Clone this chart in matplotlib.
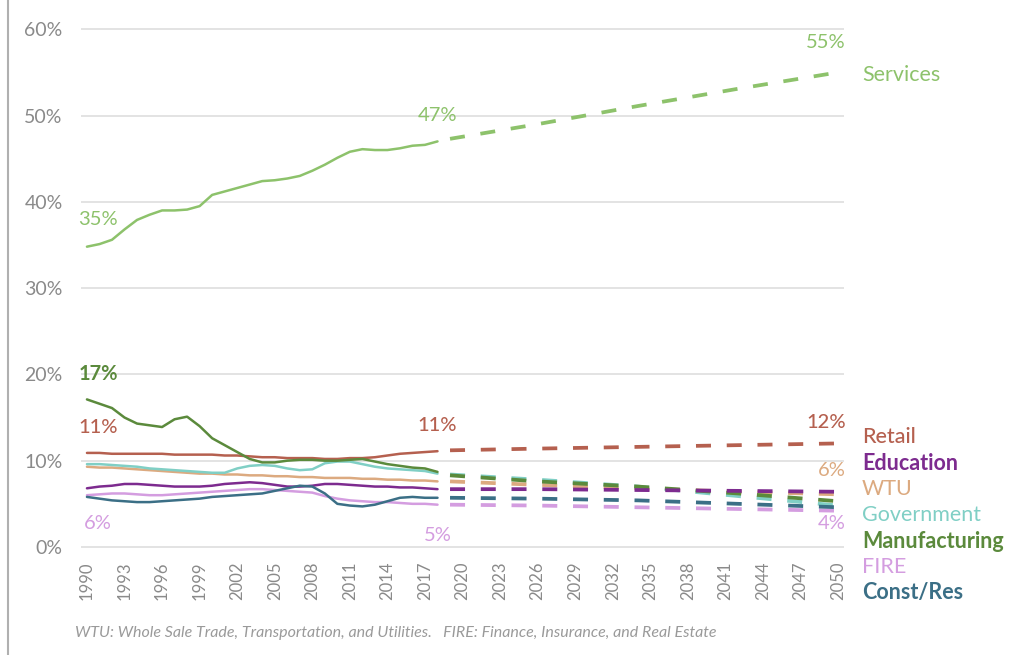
import matplotlib
matplotlib.use("Agg")
import matplotlib.pyplot as plt
from matplotlib.lines import Line2D

plt.rcParams['font.family'] = ['Lato', 'DejaVu Sans']

# Historical employment shares (%), 1990-2018
hist_years = list(range(1990, 2019))
services = [34.8, 35.1, 35.6, 36.8, 37.9, 38.5, 39.0, 39.0, 39.1, 39.5,
            40.8, 41.2, 41.6, 42.0, 42.4, 42.5, 42.7, 43.0, 43.6, 44.3,
            45.1, 45.8, 46.1, 46.0, 46.0, 46.2, 46.5, 46.6, 47.0]
retail = [10.9, 10.9, 10.8, 10.8, 10.8, 10.8, 10.8, 10.7, 10.7, 10.7,
          10.7, 10.6, 10.6, 10.5, 10.4, 10.4, 10.3, 10.3, 10.3, 10.2,
          10.2, 10.3, 10.3, 10.4, 10.6, 10.8, 10.9, 11.0, 11.1]
education = [6.8, 7.0, 7.1, 7.3, 7.3, 7.2, 7.1, 7.0, 7.0, 7.0,
             7.1, 7.3, 7.4, 7.5, 7.4, 7.2, 7.0, 7.0, 7.1, 7.3,
             7.3, 7.2, 7.1, 7.0, 7.0, 6.9, 6.9, 6.8, 6.7]
wtu = [9.3, 9.2, 9.2, 9.1, 9.0, 8.9, 8.8, 8.7, 8.6, 8.5,
       8.5, 8.4, 8.4, 8.3, 8.3, 8.2, 8.2, 8.1, 8.1, 8.0,
       8.0, 8.0, 7.9, 7.9, 7.8, 7.8, 7.7, 7.7, 7.6]
government = [9.6, 9.6, 9.5, 9.4, 9.3, 9.1, 9.0, 8.9, 8.8, 8.7,
              8.6, 8.6, 9.1, 9.4, 9.5, 9.4, 9.1, 8.9, 9.0, 9.7,
              9.9, 9.9, 9.6, 9.3, 9.1, 9.0, 8.9, 8.8, 8.5]
manufacturing = [17.1, 16.6, 16.1, 15.0, 14.3, 14.1, 13.9, 14.8, 15.1, 14.0,
                 12.6, 11.8, 11.0, 10.2, 9.8, 9.8, 10.0, 10.1, 10.1, 10.0,
                 10.0, 10.1, 10.2, 9.9, 9.6, 9.4, 9.2, 9.1, 8.7]
fire = [6.0, 6.1, 6.2, 6.2, 6.1, 6.0, 6.0, 6.1, 6.2, 6.3,
        6.4, 6.5, 6.6, 6.7, 6.7, 6.6, 6.5, 6.4, 6.3, 5.9,
        5.6, 5.4, 5.3, 5.2, 5.2, 5.1, 5.0, 5.0, 4.9]
const_res = [5.8, 5.6, 5.4, 5.3, 5.2, 5.2, 5.3, 5.4, 5.5, 5.6,
             5.8, 5.9, 6.0, 6.1, 6.2, 6.5, 6.8, 7.1, 7.0, 6.2,
             5.0, 4.8, 4.7, 4.9, 5.3, 5.7, 5.8, 5.7, 5.7]

# Projected shares (%), 2019-2050
proj_years = [2019, 2026, 2034, 2042, 2050]
services_p = [47.3, 49.0, 51.1, 53.1, 55.0]
retail_p = [11.2, 11.4, 11.6, 11.8, 12.0]
education_p = [6.7, 6.7, 6.6, 6.5, 6.4]
wtu_p = [7.6, 7.2, 6.8, 6.4, 6.1]
government_p = [8.4, 7.8, 7.0, 5.9, 4.8]
manufacturing_p = [8.3, 7.6, 7.0, 6.2, 5.3]
fire_p = [4.9, 4.8, 4.6, 4.4, 4.2]
const_res_p = [5.7, 5.6, 5.4, 5.0, 4.6]

x_ticks = list(range(1990, 2051, 3))
y_ticks = [0, 10, 20, 30, 40, 50, 60]

series = [
    # name, hist, proj, color, label weight
    ("Services", services, services_p, "#8dc26b", "normal"),
    ("Retail", retail, retail_p, "#b5604f", "medium"),
    ("Education", education, education_p, "#7d2b8f", "bold"),
    ("WTU", wtu, wtu_p, "#dcaa80", "normal"),
    ("Government", government, government_p, "#80cfc5", "normal"),
    ("Manufacturing", manufacturing, manufacturing_p, "#5b8a3c", "bold"),
    ("FIRE", fire, fire_p, "#d49de0", "normal"),
    ("Const/Res", const_res, const_res_p, "#3b6f86", "bold"),
]

W, H = 1011, 655
fig = plt.figure(figsize=(W / 100, H / 100), dpi=100)
ax = fig.add_axes([80.7 / W, 1 - 555.6 / H, 763.7 / W, 535 / H])
ax.set_xlim(1989.5, 2050.5)
ax.set_ylim(-1, 61)

for yv in y_ticks:
    ax.axhline(yv, color="#dedede", lw=1.2, zorder=0)

draw_order = ["Services", "Retail", "WTU", "Government", "Manufacturing",
              "Education", "FIRE", "Const/Res"]
lookup = {s[0]: s for s in series}
for name in draw_order:
    _, hist, proj, color, _w = lookup[name]
    ax.plot(hist_years, hist, color=color, lw=1.8, solid_capstyle="round", zorder=3)
    ax.plot(proj_years, proj, color=color, lw=2.7, dashes=(4.0, 4.2), zorder=3)

# Value annotations
def note(x, y, val, color, weight="normal", ha="center"):
    ax.text(x, y, f"{round(val)}%", color=color, fontsize=14.5, ha=ha,
            va="center", fontweight=weight, zorder=4)

green, mfg, ret, lav, tan = "#8dc26b", "#5b8a3c", "#b5604f", "#d49de0", "#dcaa80"
note(1990.9, services[0] + 3.2, services[0], green)
note(1990.9, manufacturing[0] + 2.9, manufacturing[0], mfg, "bold")
note(1990.9, retail[0] + 3.0, retail[0], ret, "medium")
note(1990.9, fire[0] - 3.3, fire[0], lav)
note(2018.0, services[-1] + 3.0, services[-1], green)
note(2018.0, retail[-1] + 3.0, retail[-1], ret, "medium")
note(2018.0, fire[-1] - 3.6, fire[-1], lav)
note(2050.6, services_p[-1] + 3.5, services_p[-1], green, ha="right")
note(2050.6, retail_p[-1] + 2.4, retail_p[-1], ret, "medium", ha="right")
note(2050.6, wtu_p[-1] + 2.8, wtu_p[-1], tan, ha="right")
note(2050.6, fire_p[-1] - 1.5, fire_p[-1], lav, ha="right")

# Series names at the right edge
label_y = [75, 437, 463, 489, 515, 541, 567, 593]
for (name, _h, _p, color, weight), ypx in zip(series, label_y):
    fig.text(862 / W, 1 - ypx / H, name, color=color, fontsize=15.5,
             fontweight=weight, ha="left", va="center")

ax.set_xticks(x_ticks)
ax.set_xticklabels([str(v) for v in x_ticks], rotation=90, fontsize=12,
                   color="#8a8a8a")
ax.set_yticks(y_ticks)
ax.set_yticklabels([f"{v}%" for v in y_ticks], fontsize=14, color="#8a8a8a")
ax.tick_params(axis="both", length=0)
ax.tick_params(axis="x", pad=4)
ax.tick_params(axis="y", pad=13)
for sp in ax.spines.values():
    sp.set_visible(False)

fig.add_artist(Line2D([8 / W, 8 / W], [0, 1], color="#b0b0b0", lw=1.5))

fig.text(75 / W, 1 - 633 / H,
         "WTU: Whole Sale Trade, Transportation, and Utilities.   "
         "FIRE: Finance, Insurance, and Real Estate",
         fontsize=11.5, style="italic", color="#9a9a9a", ha="left", va="center")

fig.savefig("out.png", dpi=100, facecolor="white")
